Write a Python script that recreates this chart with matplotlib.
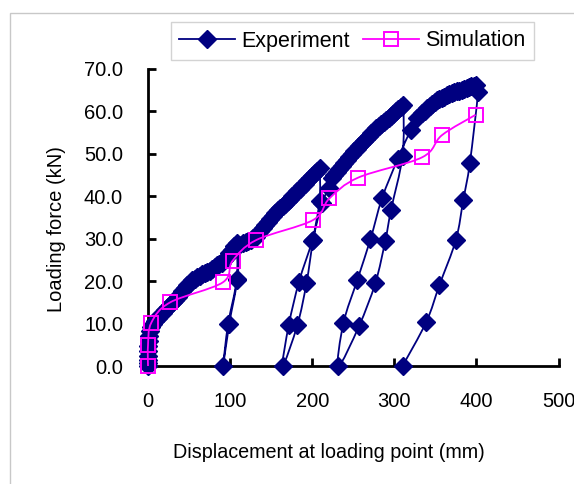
import numpy as np
import matplotlib
matplotlib.use("Agg")
import matplotlib.pyplot as plt
from matplotlib.path import Path
from matplotlib.patches import PathPatch, Rectangle
from matplotlib.lines import Line2D

plt.rcParams['font.family'] = ['Liberation Sans', 'DejaVu Sans']

# experiment: envelope + unloading/reloading cycles
exp_disp = [0, 0, 0, 0, 0, 0, 1, 1, 2, 4, 6, 9, 12, 15, 18, 21, 24, 27, 30, 33, 36, 39, 42, 45, 48,
            51, 54, 57, 60, 63, 66, 69, 72, 75, 78, 81, 84, 87, 90, 93, 96, 99, 102, 105, 108,
            108, 97.5, 91.5, 99, 109, 111,
            116, 119, 122, 125, 128, 131, 134, 137, 140, 143, 146, 149, 152, 155, 158, 161, 164,
            167, 170, 173, 176, 179, 182, 185, 188, 191, 194, 197, 200, 203, 206, 209,
            209, 201, 193, 182, 164, 171.5, 184, 200, 212, 221,
            224, 227, 230, 233, 236, 239, 242, 245, 248, 251, 254, 257, 260, 263, 266, 269, 272,
            275, 278, 281, 284, 287, 290, 293, 296, 299, 302, 305, 308, 311,
            310, 296, 289, 277, 257, 232, 238, 255, 271, 285, 304, 320, 328,
            334, 337, 340, 343, 346, 349, 352, 355, 358, 361, 364, 367, 370, 373, 376, 379, 382,
            385, 388, 391, 394, 397, 400, 402,
            392, 384, 375, 355, 339, 310]
exp_force = [0, 0.6, 1.4, 2.4, 3.5, 4.6, 5.8, 7, 8.2, 9.2, 9.8, 10.6, 11.3, 12, 12.6, 13.2, 13.8,
             14.4, 15, 15.6, 16.2, 16.9, 17.6, 18.3, 19, 19.6, 20.2, 20.6, 21, 21.3, 21.6, 21.9,
             22.2, 22.5, 22.9, 23.3, 23.7, 24, 24.3, 25, 25.8, 26.6, 27.4, 28.2, 29,
             20.3, 9.8, 0, 10, 20.5, 28.6,
             28.9, 29.2, 29.5, 29.8, 30.1, 30.5, 31.1, 31.8, 32.5, 33.2, 33.9, 34.6, 35.3, 36,
             36.7, 37.2, 37.6, 38.2, 38.8, 39.4, 40, 40.6, 41.2, 41.8, 42.4, 43, 43.6, 44.2, 44.8,
             45.4, 46, 46.6,
             39, 29.7, 19.5, 9.7, 0, 9.7, 19.9, 29.5, 38.5, 42,
             44.4, 45.1, 45.8, 46.5, 47.2, 47.9, 48.6, 49.3, 50, 50.6, 51.2, 51.8, 52.4, 53, 53.6,
             54.2, 54.8, 55.4, 56, 56.5, 57, 57.5, 58, 58.5, 59, 59.5, 60, 60.5, 61, 61.5,
             49.5, 36.8, 29.5, 19.6, 9.4, 0, 10.1, 20.3, 29.9, 39.5, 48.7, 55.6, 58.4,
             59.6, 60.2, 60.8, 61.3, 61.8, 62.2, 62.6, 62.9, 63.2, 63.5, 63.8, 64.1, 64.3, 64.5,
             64.7, 64.9, 65.1, 65.3, 65.5, 65.7, 65.9, 66.1, 66.3, 64.5,
             47.8, 39.1, 29.7, 19.1, 10.4, 0]

sim_disp = [0, 0, 4, 27, 91, 103, 132, 201, 221, 256, 334, 358, 399]
sim_force = [0, 4.9, 10.2, 15, 19.7, 24.8, 29.7, 34.4, 39.5, 44.4, 49.2, 54.4, 59.2]

x_ticks = [0, 100, 200, 300, 400, 500]
y_ticks = [0, 10, 20, 30, 40, 50, 60, 70]

navy = "#000080"
magenta = "#FF00FF"


def smooth_path(xs, ys):
    # excel style smoothed line (catmull-rom -> bezier)
    pts = np.column_stack([xs, ys]).astype(float)
    n = len(pts)
    verts = [pts[0]]
    codes = [Path.MOVETO]
    for i in range(n - 1):
        p0 = pts[max(i - 1, 0)]
        p1 = pts[i]
        p2 = pts[i + 1]
        p3 = pts[min(i + 2, n - 1)]
        verts += [p1 + (p2 - p0) / 6, p2 - (p3 - p1) / 6, p2]
        codes += [Path.CURVE4] * 3
    return Path(verts, codes)


fig = plt.figure(figsize=(5.74, 4.84), dpi=100)
ax = fig.add_axes([148 / 574, 1 - 366 / 484, 410.5 / 574, 297 / 484])

ax.add_patch(PathPatch(smooth_path(exp_disp, exp_force), fill=False, edgecolor=navy, lw=1.3, clip_on=False, zorder=2))
ax.plot(exp_disp, exp_force, ls="none", marker="D", ms=9, color=navy, clip_on=False, zorder=3)

ax.add_patch(PathPatch(smooth_path(sim_disp, sim_force), fill=False, edgecolor=magenta, lw=1.3, clip_on=False, zorder=4))
ax.plot(sim_disp, sim_force, ls="none", marker="s", ms=9.5, mfc="none", mec=magenta, mew=1.4, clip_on=False, zorder=5)

ax.set_xlim(0, 500)
ax.set_ylim(0, 70)
ax.set_xticks(x_ticks)
ax.set_yticks(y_ticks)
ax.set_xticklabels([str(v) for v in x_ticks])
ax.set_yticklabels([f"{v:.1f}" for v in y_ticks])
ax.spines["top"].set_visible(False)
ax.spines["right"].set_visible(False)
for s in ["left", "bottom"]:
    ax.spines[s].set_linewidth(2)
ax.tick_params(axis="both", direction="in", length=6, width=2, labelsize=14.5)
ax.tick_params(axis="x", pad=19)
ax.tick_params(axis="y", pad=18)

fig.text(329 / 574, 1 - 452 / 484, "Displacement at loading point (mm)", ha="center", va="center", fontsize=14.2)
fig.text(56 / 574, 1 - 229 / 484, "Loading force (kN)", ha="center", va="center", rotation=90, fontsize=14.5)

handles = [Line2D([], [], color=navy, lw=1.3, marker="D", ms=9),
           Line2D([], [], color=magenta, lw=1.3, marker="s", ms=9.5, mfc="none", mew=1.4)]
leg = fig.legend(handles, ["Experiment", "Simulation"], loc="center", ncol=2,
                 bbox_to_anchor=(352.5 / 574, 1 - 41 / 484), fontsize=15.5, frameon=True,
                 fancybox=False, handlelength=2.6, handletextpad=0.3, columnspacing=0.6,
                 borderpad=0.4)
leg.get_frame().set_edgecolor("#c8c8c8")
leg.get_frame().set_linewidth(1)

# outer chart border (only left and top are visible)
fig.patches.append(Rectangle((10 / 574, -0.1), 1.2, 1.1 - 13 / 484, transform=fig.transFigure,
                             fill=False, edgecolor="#c8c8c8", lw=1))

fig.savefig("out.png", dpi=100)
